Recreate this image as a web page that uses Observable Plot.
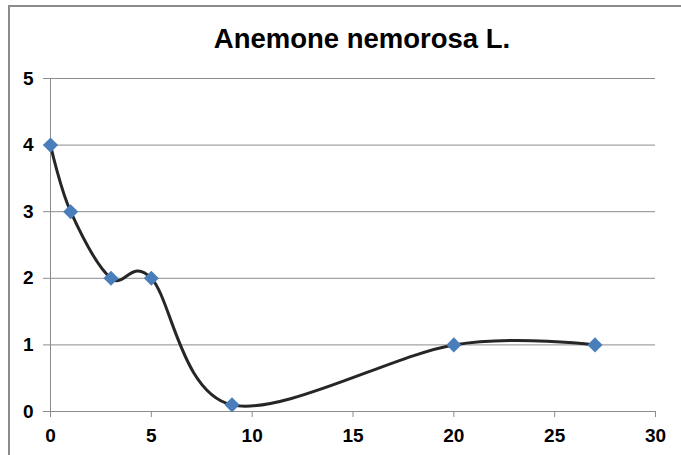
<!DOCTYPE html>
<html>
<head>
<meta charset="utf-8">
<script src="https://cdn.jsdelivr.net/npm/d3@7"></script>
<script src="https://cdn.jsdelivr.net/npm/@observablehq/plot@0.6"></script>
<style>
  html, body { margin: 0; padding: 0; background: #fff; }
  #wrap { position: relative; width: 681px; height: 455px; overflow: hidden; }
  #border {
    position: absolute; left: 8px; top: 5px; width: 800px; height: 600px;
    border: 2px solid #8c8c8c; box-sizing: border-box;
  }
  #chart { position: absolute; left: 0; top: 0; }
</style>
</head>
<body>
<div id="wrap">
  <div id="border"></div>
  <div id="chart"></div>
</div>
<script>
// Anemone nemorosa L. observations
const title = "Anemone nemorosa L.";
const xValues = [0, 1, 3, 5, 9, 20, 27];
const yValues = [4, 3, 2, 2, 0.1, 1, 1];
const xTicks = [0, 5, 10, 15, 20, 25, 30];
const yTicks = [0, 1, 2, 3, 4, 5];

const data = xValues.map((x, i) => ({x, y: yValues[i]}));
const font = "'Liberation Sans', Arial, sans-serif";

const chart = Plot.plot({
  width: 681,
  height: 455,
  marginLeft: 50,
  marginRight: 26,
  marginTop: 78,
  marginBottom: 44,
  style: {fontFamily: font, background: "transparent", overflow: "visible"},
  x: {domain: [0, 30]},
  y: {domain: [0, 5]},
  marks: [
    Plot.ruleY(yTicks, {stroke: "#8c8c8c", strokeWidth: 1}),
    Plot.ruleX([0], {stroke: "#8c8c8c", strokeWidth: 1}),
    Plot.axisY({
      ticks: yTicks, tickSize: 7, tickPadding: 10, stroke: "#8c8c8c",
      strokeOpacity: 1, label: null, fontSize: 19, fontWeight: "bold", fill: "#000",
      tickFormat: d => String(d)
    }),
    Plot.axisX({
      ticks: xTicks, tickSize: 6, tickPadding: 11, stroke: "#8c8c8c",
      strokeOpacity: 1, label: null, fontSize: 19, fontWeight: "bold", fill: "#000",
      tickFormat: d => String(d)
    }),
    Plot.line(data, {
      x: "x", y: "y", curve: "cardinal", tension: 0,
      stroke: "#262626", strokeWidth: 3
    }),
    Plot.dot(data, {
      x: "x", y: "y", symbol: "diamond2", r: 6.8,
      fill: "#4a7ebb", stroke: "none"
    }),
    Plot.text([title], {
      frameAnchor: "top", lineAnchor: "bottom", dy: -31, dx: 9,
      fontSize: 27.5, fontWeight: "bold", fill: "#000", fontFamily: font
    })
  ]
});

document.getElementById("chart").appendChild(chart);
</script>
</body>
</html>
